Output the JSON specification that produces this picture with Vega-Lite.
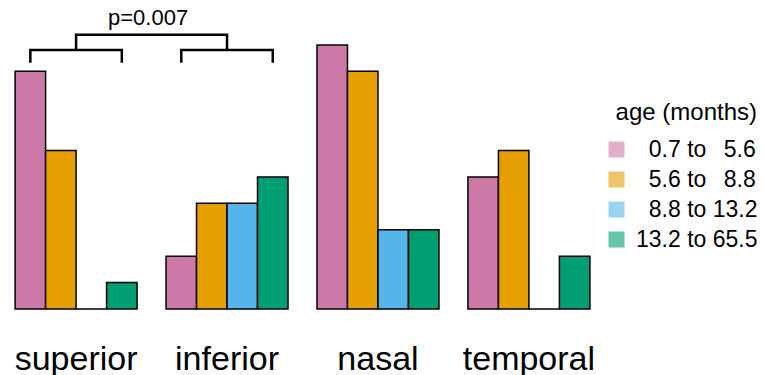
{
  "$schema": "https://vega.github.io/schema/vega-lite/v6.json",
  "width": 605,
  "height": 309,
  "padding": 0,
  "config": {"view": {"stroke": null}, "font": "Liberation Sans"},
  "datasets": {
    "bars": [
      {"region": "superior", "age": "0.7 to 5.6", "count": 9},
      {"region": "superior", "age": "5.6 to 8.8", "count": 6},
      {"region": "superior", "age": "8.8 to 13.2", "count": 0},
      {"region": "superior", "age": "13.2 to 65.5", "count": 1},
      {"region": "inferior", "age": "0.7 to 5.6", "count": 2},
      {"region": "inferior", "age": "5.6 to 8.8", "count": 4},
      {"region": "inferior", "age": "8.8 to 13.2", "count": 4},
      {"region": "inferior", "age": "13.2 to 65.5", "count": 5},
      {"region": "nasal", "age": "0.7 to 5.6", "count": 10},
      {"region": "nasal", "age": "5.6 to 8.8", "count": 9},
      {"region": "nasal", "age": "8.8 to 13.2", "count": 3},
      {"region": "nasal", "age": "13.2 to 65.5", "count": 3},
      {"region": "temporal", "age": "0.7 to 5.6", "count": 5},
      {"region": "temporal", "age": "5.6 to 8.8", "count": 6},
      {"region": "temporal", "age": "8.8 to 13.2", "count": 0},
      {"region": "temporal", "age": "13.2 to 65.5", "count": 2}
    ],
    "sub": [
      {"bracket": "a", "region": "superior", "age": "0.7 to 5.6", "y": 9.32, "ord": 1},
      {"bracket": "a", "region": "superior", "age": "0.7 to 5.6", "y": 9.81, "ord": 2},
      {"bracket": "a", "region": "superior", "age": "13.2 to 65.5", "y": 9.81, "ord": 3},
      {"bracket": "a", "region": "superior", "age": "13.2 to 65.5", "y": 9.32, "ord": 4},
      {"bracket": "b", "region": "inferior", "age": "0.7 to 5.6", "y": 9.32, "ord": 1},
      {"bracket": "b", "region": "inferior", "age": "0.7 to 5.6", "y": 9.81, "ord": 2},
      {"bracket": "b", "region": "inferior", "age": "13.2 to 65.5", "y": 9.81, "ord": 3},
      {"bracket": "b", "region": "inferior", "age": "13.2 to 65.5", "y": 9.32, "ord": 4}
    ],
    "top": [
      {"region": "superior", "y": 9.81, "ord": 1},
      {"region": "superior", "y": 10.38, "ord": 2},
      {"region": "inferior", "y": 10.38, "ord": 3},
      {"region": "inferior", "y": 9.81, "ord": 4}
    ],
    "ptext": [{"region": "superior", "y": 10.76, "text": "p=0.007"}]
  },
  "layer": [
    {
      "data": {"name": "bars"},
      "mark": {"type": "bar", "stroke": "black", "strokeWidth": 1.5},
      "encoding": {
        "x": {
          "field": "region", "type": "nominal",
          "scale": {"domain": ["superior", "inferior", "nasal", "temporal"], "paddingInner": 0.192, "paddingOuter": 0.1},
          "axis": {"title": null, "domain": false, "ticks": false, "tickSize": 0, "labelAngle": 0, "labelFontSize": 34, "labelColor": "black", "labelBaseline": "alphabetic", "labelPadding": 60, "labelFont": "Liberation Sans"}
        },
        "xOffset": {
          "field": "age", "type": "nominal",
          "scale": {"domain": ["0.7 to 5.6", "5.6 to 8.8", "8.8 to 13.2", "13.2 to 65.5"], "paddingInner": 0, "paddingOuter": 0}
        },
        "y": {"field": "count", "type": "quantitative", "scale": {"domain": [0, 11.7], "nice": false}, "axis": null},
        "color": {
          "field": "age", "type": "nominal",
          "scale": {"domain": ["0.7 to 5.6", "5.6 to 8.8", "8.8 to 13.2", "13.2 to 65.5"], "range": ["#CC79A7", "#E69F00", "#56B4E9", "#009E73"]},
          "legend": {
            "orient": "none", "legendX": 605, "legendY": 101, "padding": 0,
            "title": "age (months)", "titleFontSize": 24, "titleFontWeight": "normal", "titleColor": "black", "titlePadding": 13, "titleAnchor": "end",
            "labelFontSize": 23, "labelColor": "black", "labelOffset": 8,
            "labelExpr": "datum.label == '0.7 to 5.6' ? '\u200b\u00a0\u00a00.7 to \u00a0\u20095.6' : datum.label == '5.6 to 8.8' ? '\u200b\u00a0\u00a05.6 to \u00a0\u20098.8' : datum.label == '8.8 to 13.2' ? '\u200b\u00a0\u00a08.8 to 13.2' : datum.label",
            "symbolType": "square", "symbolSize": 256, "symbolOpacity": 0.6, "symbolStrokeWidth": 0, "rowPadding": 6
          }
        }
      }
    },
    {
      "data": {"name": "sub"},
      "mark": {"type": "line", "color": "black", "strokeWidth": 2.5, "strokeCap": "butt"},
      "encoding": {
        "x": {"field": "region", "type": "nominal"},
        "xOffset": {"field": "age", "type": "nominal"},
        "y": {"field": "y", "type": "quantitative"},
        "detail": {"field": "bracket"},
        "order": {"field": "ord", "type": "quantitative"}
      }
    },
    {
      "data": {"name": "top"},
      "mark": {"type": "line", "color": "black", "strokeWidth": 2.5, "strokeCap": "butt"},
      "encoding": {
        "x": {"field": "region", "type": "nominal"},
        "y": {"field": "y", "type": "quantitative"},
        "order": {"field": "ord", "type": "quantitative"}
      }
    },
    {
      "data": {"name": "ptext"},
      "mark": {"type": "text", "fontSize": 22, "color": "black", "baseline": "alphabetic", "align": "center"},
      "encoding": {
        "x": {"field": "region", "type": "nominal", "bandPosition": 1.09},
        "y": {"field": "y", "type": "quantitative"},
        "text": {"field": "text"}
      }
    }
  ]
}
